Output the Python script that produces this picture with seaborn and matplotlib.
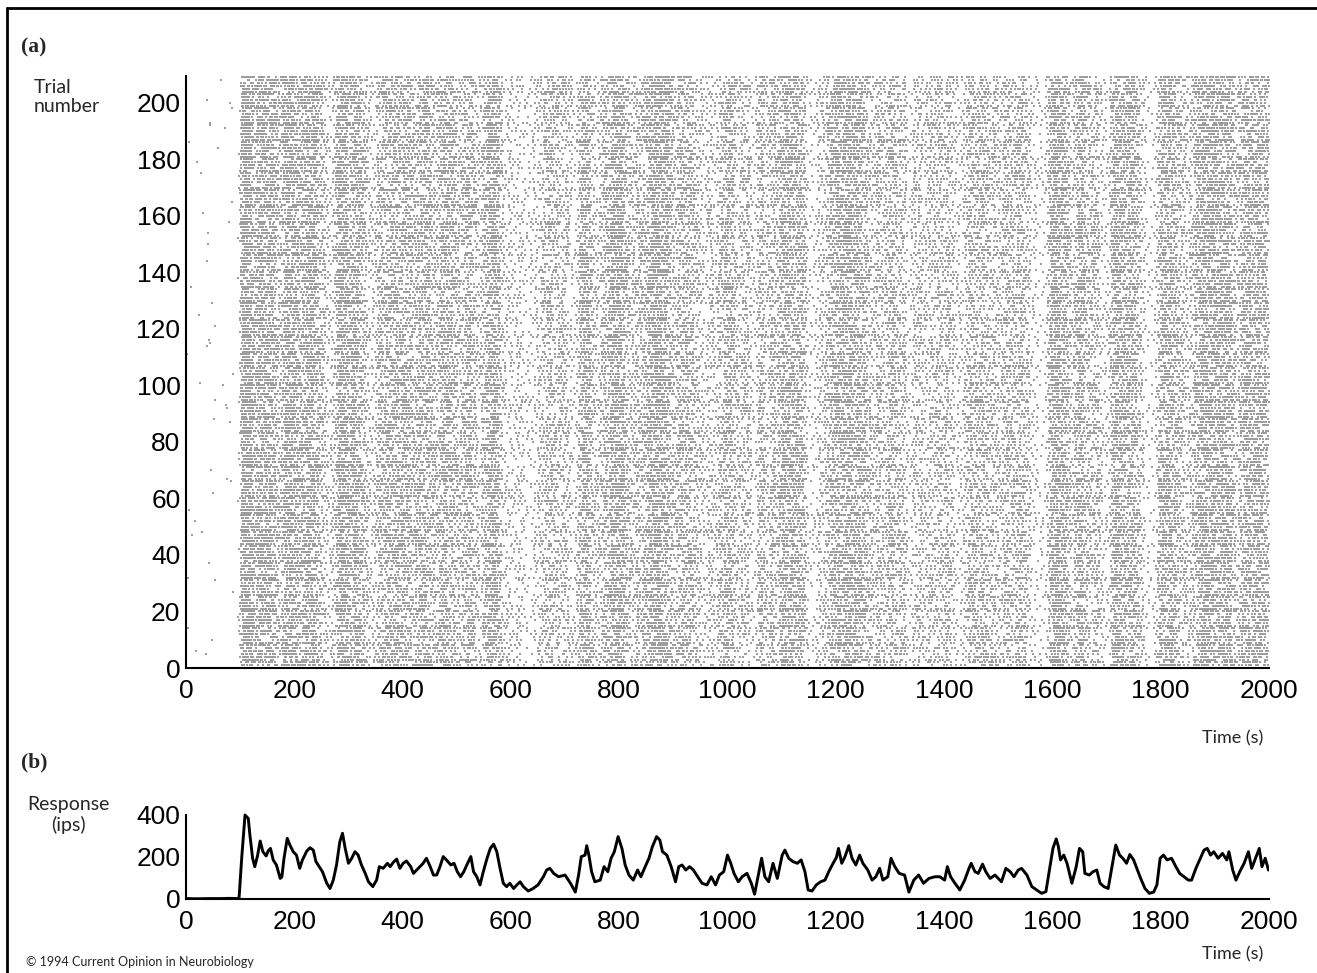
"""
Spike raster (a) and response histogram (b)
"""

import numpy as np
import pandas as pd
import matplotlib

matplotlib.use("Agg")
import matplotlib.pyplot as plt
import seaborn as sns

# Response (ips) of panel b
psth_time = [0, 20, 40, 60, 80, 96, 98, 103, 109, 115, 118, 123, 127, 132, 137, 142,
             148, 152, 156, 161, 167, 174, 177, 181, 187, 192, 198, 204, 210, 215,
             223, 229, 235, 240, 246, 252, 260, 266, 272, 278, 284, 289, 294, 300,
             306, 312, 318, 324, 331, 337, 345, 352, 357, 364, 372, 377, 383, 389,
             395, 401, 407, 415, 420, 426, 432, 438, 444, 451, 457, 463, 469, 475,
             481, 489, 495, 501, 507, 513, 520, 526, 531, 537, 543, 549, 556, 562,
             568, 574, 580, 586, 592, 598, 605, 611, 617, 623, 632, 641, 650, 660,
             666, 672, 679, 688, 700, 710, 719, 725, 730, 737, 740, 744, 749, 755,
             765, 772, 779, 785, 791, 798, 805, 811, 818, 826, 834, 840, 848, 855,
             861, 869, 875, 880, 888, 896, 904, 910, 916, 923, 930, 937, 945, 953,
             962, 970, 978, 985, 993, 1000, 1006, 1012, 1020, 1027, 1036, 1044, 1050,
             1057, 1063, 1069, 1076, 1084, 1092, 1101, 1106, 1113, 1121, 1129, 1136,
             1143, 1149, 1156, 1164, 1172, 1180, 1187, 1195, 1201, 1205, 1211, 1217,
             1224, 1230, 1237, 1244, 1250, 1259, 1267, 1274, 1281, 1287, 1296, 1302,
             1309, 1317, 1327, 1335, 1344, 1353, 1362, 1372, 1383, 1392, 1401, 1406,
             1412, 1420, 1429, 1438, 1446, 1450, 1457, 1463, 1471, 1477, 1485, 1494,
             1500, 1506, 1514, 1522, 1529, 1537, 1543, 1553, 1562, 1571, 1580, 1588,
             1594, 1601, 1607, 1611, 1615, 1621, 1627, 1636, 1644, 1650, 1656, 1660,
             1668, 1675, 1682, 1688, 1695, 1703, 1709, 1717, 1724, 1730, 1737, 1743,
             1750, 1756, 1763, 1771, 1779, 1787, 1793, 1799, 1805, 1812, 1820, 1828,
             1835, 1843, 1851, 1857, 1865, 1872, 1880, 1886, 1892, 1898, 1906, 1914,
             1922, 1926, 1933, 1939, 1946, 1954, 1962, 1968, 1974, 1982, 1987, 1993,
             1999]
psth_rate = [2, 1, 2, 2, 3, 2, 5, 200, 400, 384, 305, 194, 154, 205, 276, 225,
             205, 230, 241, 186, 162, 98, 105, 194, 289, 256, 225, 209, 146, 186,
             228, 244, 233, 178, 154, 130, 75, 50, 90, 162, 272, 313, 241, 170,
             194, 225, 209, 162, 122, 82, 59, 90, 154, 146, 170, 154, 175, 190,
             146, 170, 181, 154, 122, 138, 154, 170, 194, 154, 114, 114, 154, 202,
             186, 162, 170, 130, 106, 130, 170, 202, 130, 106, 67, 130, 194, 241,
             261, 225, 146, 75, 59, 75, 50, 67, 82, 59, 38, 50, 67, 106,
             138, 146, 122, 106, 114, 75, 33, 114, 202, 209, 254, 209, 130, 82,
             90, 154, 130, 194, 225, 297, 241, 162, 114, 90, 138, 106, 154, 194,
             247, 297, 281, 225, 209, 154, 82, 154, 162, 138, 154, 138, 106, 75,
             67, 106, 67, 114, 130, 209, 170, 122, 82, 106, 122, 75, 23,
             114, 194, 106, 82, 170, 98, 209, 233, 194, 178, 170, 186,
             130, 43, 38, 67, 82, 90, 130, 170, 197, 241, 170, 202,
             254, 194, 162, 209, 170, 138, 90, 106, 146, 90, 106, 194,
             154, 122, 114, 33, 90, 114, 75, 98, 106, 106, 90, 154,
             106, 75, 43, 90, 146, 170, 130, 122, 166, 130, 98, 114,
             98, 82, 146, 130, 106, 138, 146, 114, 59, 43, 27, 35,
             130, 241, 286, 250, 186, 209, 170, 75, 154, 241, 225, 122,
             114, 130, 138, 75, 59, 50, 138, 257, 209, 194, 170, 212,
             186, 146, 98, 50, 27, 33, 67, 194, 209, 186, 194, 154,
             122, 106, 90, 90, 146, 186, 233, 241, 209, 225, 194, 217,
             186, 225, 138, 90, 130, 170, 225, 146, 186, 241, 154, 194,
             138]

n_trials = 209
time_ticks = list(range(0, 2001, 200))
trial_ticks = list(range(0, 201, 20))
response_ticks = [0, 200, 400]

W, H = 1317, 973


def unit_hash(k, n):
    # deterministic integer hash -> [0, 1)
    x = k.astype(np.uint64) * np.uint64(0x9E3779B97F4A7C15)
    x = x + n.astype(np.uint64) * np.uint64(0xBF58476D1CE4E5B9)
    x ^= x >> np.uint64(31)
    x *= np.uint64(0x94D049BB133111EB)
    x ^= x >> np.uint64(29)
    return (x >> np.uint64(11)).astype(np.float64) / 2.0 ** 53


# The single spikes cannot be read from the scan, so each trial's spikes
# are spread out in time following the integrated rate of panel b.
def raster_from_rate(times, rates, trials):
    t_fine = np.arange(0, 2000.25, 0.25)
    r_fine = np.interp(t_fine, times, rates)
    cum = np.concatenate([[0.0], np.cumsum(r_fine[:-1] * np.diff(t_fine) / 1000.0)])
    total = cum[-1]
    rows = []
    for k in range(1, trials + 1):
        n = np.arange(int(total * 1.6) + 40)
        u = unit_hash(np.full(n.shape, k), n)
        gaps = 0.35 - 0.65 * np.log1p(-u)
        thr = np.cumsum(gaps) - gaps[0] * unit_hash(np.array([k]), np.array([99999]))[0]
        thr = thr[(thr > 0) & (thr < total)]
        rows.append(pd.DataFrame({"time": np.interp(thr, cum, t_fine), "trial": k}))
    return pd.concat(rows, ignore_index=True)


def px(x, y):
    return x / W, 1 - y / H


def style_axis(ax):
    sns.despine(ax=ax)
    for side in ["left", "bottom"]:
        ax.spines[side].set_linewidth(1.5)
        ax.spines[side].set_color("black")
    ax.tick_params(direction="in", length=7, width=1.2, colors="black",
                   labelsize=19, pad=4)
    ax.tick_params(axis="x", pad=8)
    for lab in ax.get_xticklabels() + ax.get_yticklabels():
        lab.set_family(["Liberation Sans", "DejaVu Sans"])
    ax.set_xlabel("")
    ax.set_ylabel("")


sns.set_theme(style="white")
plt.rcParams["font.family"] = ["Lato", "DejaVu Sans"]

fig = plt.figure(figsize=(W / 100, H / 100), dpi=100)

# (a) raster
ax1 = fig.add_axes([186 / W, 1 - 668 / H, 1083 / W, 592 / H])
spikes = raster_from_rate(psth_time, psth_rate, n_trials)
sns.scatterplot(data=spikes, x="time", y="trial", marker="s", s=0.6,
                linewidth=0, color="0.62", ax=ax1, legend=False, rasterized=True)
ax1.set_xlim(0, 2000)
ax1.set_ylim(0, 209.5)
ax1.set_xticks(time_ticks)
ax1.set_yticks(trial_ticks)
style_axis(ax1)

# (b) response
ax2 = fig.add_axes([186 / W, 1 - 899 / H, 1083 / W, 88.2 / H])
sns.lineplot(x=psth_time, y=psth_rate, ax=ax2, color="black", linewidth=2.1)
ax2.set_xlim(0, 2000)
ax2.set_ylim(0, 420)
ax2.set_xticks(time_ticks)
ax2.set_yticks(response_ticks)
style_axis(ax2)
ax2.spines["left"].set_bounds(0, 400)

# labels
serif = ["Liberation Serif", "DejaVu Serif"]
fig.text(*px(21, 47), "(a)", fontsize=15.5, fontweight="bold", family=serif, va="center")
fig.text(*px(21, 762), "(b)", fontsize=15.5, fontweight="bold", family=serif, va="center")
fig.text(*px(34, 97), "Trial\nnumber", fontsize=14, va="center", ha="left",
         linespacing=1.2)
fig.text(*px(68, 815), "Response\n(ips)", fontsize=14, va="center", ha="center",
         linespacing=1.2)
fig.text(*px(1263, 738), "Time (s)", fontsize=13, ha="right", va="center")
fig.text(*px(1263, 954), "Time (s)", fontsize=13, ha="right", va="center")
fig.text(*px(26, 962), "\u00a9 1994 Current Opinion in Neurobiology", fontsize=9,
         ha="left", va="center")

# frame along the left and top edges
fig.add_artist(plt.Line2D([7 / W, 7 / W], [0, 1 - 8 / H], transform=fig.transFigure,
                          color="black", linewidth=2))
fig.add_artist(plt.Line2D([7 / W, 1], [1 - 8 / H, 1 - 8 / H], transform=fig.transFigure,
                          color="black", linewidth=2))

fig.savefig("out.png", dpi=100)
plt.close(fig)
